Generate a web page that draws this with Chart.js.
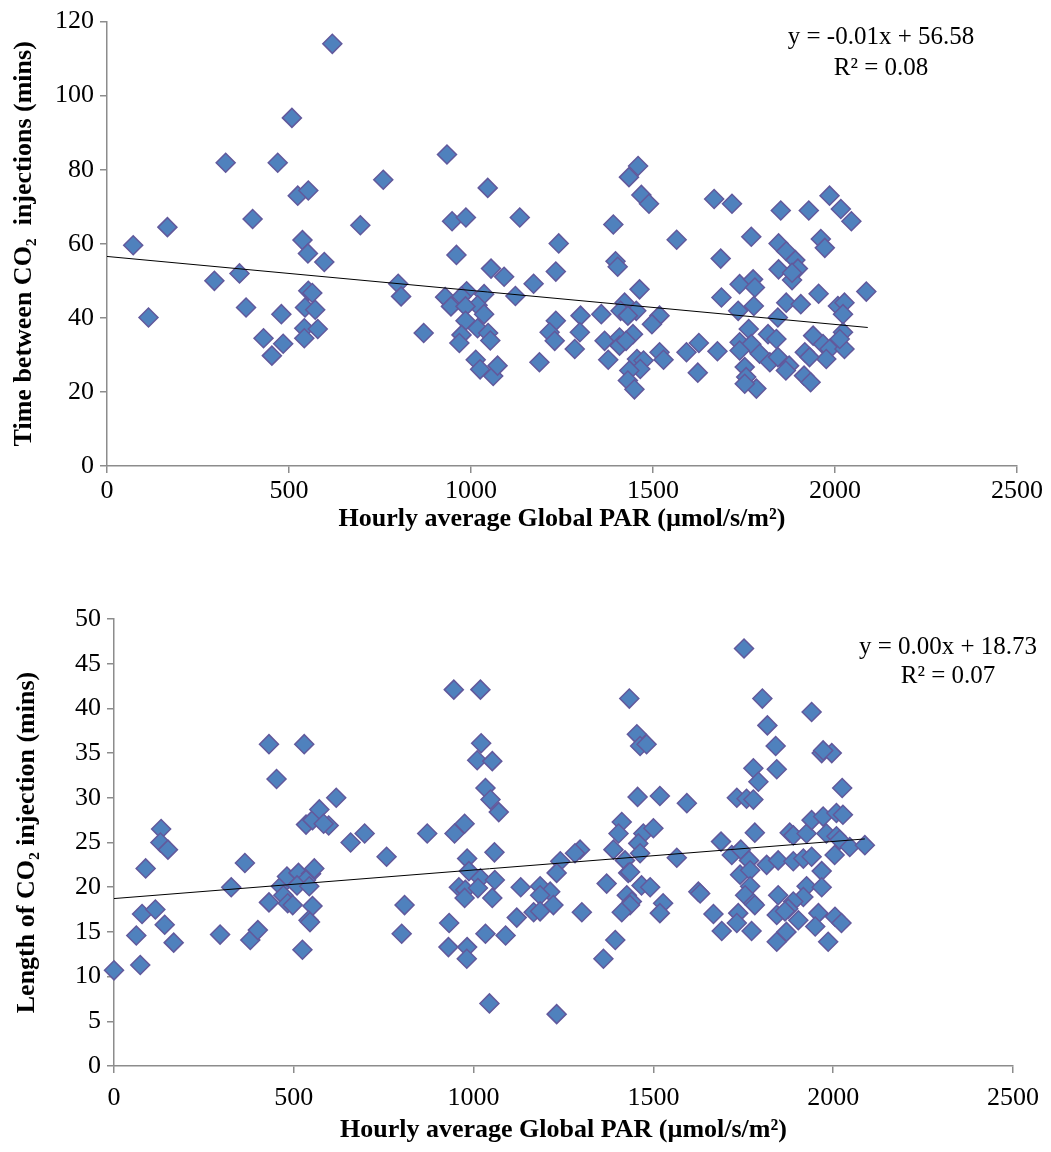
<!DOCTYPE html>
<html>
<head>
<meta charset="utf-8">
<script src="https://cdn.jsdelivr.net/npm/chart.js@4.4.1/dist/chart.umd.min.js"></script>
<style>
    html, body { margin: 0; padding: 0; background: #fff; }
    #wrap { position: relative; width: 1051px; height: 1152px; }
    canvas { position: absolute; left: 0; }
    #topChart { top: 0; }
    #bottomChart { top: 560px; }
</style>
</head>
<body>
<div id="wrap">
    <canvas id="topChart" width="1051" height="560"></canvas>
    <canvas id="bottomChart" width="1051" height="592"></canvas>
</div>
<script>
// Ticks
const parTicks = [0, 500, 1000, 1500, 2000, 2500];
const intervalTicks = [0, 20, 40, 60, 80, 100, 120];
const lengthTicks = [0, 5, 10, 15, 20, 25, 30, 35, 40, 45, 50];

// Top chart: [hourly PAR, time between injections]
const intervalPoints = [
    [619, 114.0], [508, 94.0], [326, 81.9], [469, 81.9], [934, 84.1], [759, 77.3], [1046, 75.1],
    [524, 73.0], [553, 74.4], [1134, 67.1], [948, 66.1], [986, 67.1], [400, 66.7], [696, 65.0],
    [166, 64.5], [72, 59.6], [537, 61.0], [552, 57.4], [960, 57.0], [597, 55.1], [364, 52.0],
    [295, 50.0], [1055, 53.3], [1091, 51.1], [1172, 49.2], [800, 49.2], [808, 45.8], [1122, 45.9],
    [929, 45.6], [945, 43.1], [988, 47.2], [974, 45.8], [1036, 46.4], [1018, 43.4], [1036, 41.0],
    [985, 43.1], [985, 39.2], [553, 47.3], [564, 46.7], [544, 42.8], [572, 42.2], [382, 42.8],
    [479, 41.0], [114, 40.1], [870, 35.9], [974, 35.4], [968, 33.2], [1018, 37.2], [1047, 35.9],
    [1053, 33.9], [542, 37.2], [542, 34.5], [579, 37.0], [430, 34.5], [484, 33.0], [453, 29.8],
    [1013, 28.7], [1025, 26.1], [1061, 24.3], [1073, 27.1], [1188, 28.0],
    [1459, 81.0], [1434, 78.0], [1468, 73.2], [1489, 70.8], [1668, 72.1], [1717, 70.8], [1851, 69.0],
    [1928, 69.0], [1985, 73.0], [2016, 69.4], [2045, 66.1], [1391, 65.2], [1241, 60.1], [1565, 61.1],
    [1770, 61.9], [1845, 60.1], [1866, 58.0], [1891, 55.6], [1898, 53.3], [1961, 61.3], [1972, 58.9],
    [1686, 56.0], [1397, 55.3], [1403, 53.8], [1233, 52.5], [1845, 53.1], [1882, 50.2], [1882, 52.2],
    [1463, 47.7], [1738, 49.1], [1775, 50.4], [1780, 48.2], [1688, 45.5], [1955, 46.5], [2086, 47.1],
    [1866, 44.1], [1906, 43.7], [1777, 43.2], [1734, 41.9], [1843, 40.1], [2008, 43.2], [2026, 44.1],
    [2022, 41.0], [1422, 44.1], [1411, 41.9], [1454, 41.9], [1431, 40.6], [1358, 41.0], [1301, 40.6],
    [1518, 40.6], [1497, 38.3], [1233, 39.2], [1216, 36.1], [1230, 33.8], [1299, 36.1], [1285, 31.6],
    [1367, 33.8], [1408, 34.7], [1408, 32.5], [1445, 35.6], [1426, 33.8], [1377, 28.7], [1456, 28.9],
    [1474, 28.5], [1465, 26.2], [1435, 25.8], [1431, 23.1], [1449, 20.7], [1518, 30.7], [1529, 28.7],
    [1592, 30.7], [1626, 33.2], [1677, 31.0], [1623, 25.2], [1763, 37.0], [1738, 33.4], [1770, 32.9],
    [1793, 30.3], [1821, 28.0], [1816, 35.6], [1839, 34.3], [1843, 29.4], [1738, 31.2], [1752, 26.7],
    [1756, 24.0], [1784, 20.9], [1752, 22.2], [1874, 27.1], [1865, 25.8], [1915, 24.4], [1933, 22.6],
    [1940, 35.2], [1967, 32.9], [1985, 31.6], [1976, 28.9], [1917, 30.7], [1930, 29.4], [2022, 36.1],
    [2026, 31.6], [2013, 34.3]
];
const intervalTrendX = [0, 2090];
const intervalTrendY = [56.58, 37.4];
const intervalEquation = ['y = -0.01x + 56.58', 'R\u00B2 = 0.08'];

// Bottom chart: [hourly PAR, length of injection]
const lengthPoints = [
    [0, 10.7], [73, 11.3], [62, 14.6], [78, 17.0], [88, 22.1], [131, 26.5], [129, 25.0], [150, 24.2],
    [115, 17.5], [141, 15.8], [166, 13.8], [295, 14.7], [326, 20.0], [364, 22.7], [379, 14.1],
    [400, 15.2], [431, 36.0], [452, 32.1], [529, 36.0], [431, 18.3], [464, 20.1], [481, 21.2],
    [513, 21.6], [548, 21.5], [534, 20.8], [557, 22.1], [509, 20.2], [543, 20.1], [471, 19.1],
    [483, 18.2], [497, 18.0], [552, 17.9], [541, 16.3], [545, 16.1], [524, 13.0], [534, 27.0],
    [552, 27.5], [571, 28.7], [597, 26.9], [583, 27.1], [618, 30.0], [658, 25.0], [697, 26.0],
    [758, 23.4], [800, 14.8], [808, 18.0], [871, 26.0], [932, 16.0], [930, 13.3], [945, 42.1],
    [1019, 42.1], [947, 26.0], [975, 27.1], [982, 23.2], [987, 21.8], [959, 20.0], [977, 19.7],
    [975, 18.8], [982, 13.3], [981, 12.0], [1021, 36.1], [1010, 34.2], [1052, 34.1], [1033, 31.1],
    [1047, 29.8], [1070, 28.4], [1058, 23.9], [1019, 21.0], [1012, 19.9], [1059, 20.8], [1052, 18.8],
    [1033, 14.8], [1044, 7.0], [1089, 14.6], [1120, 16.6], [1131, 20.0], [1167, 17.2],
    [1752, 46.7], [1433, 41.1], [1803, 41.1], [1940, 39.6], [1817, 38.1], [1840, 35.8], [1454, 37.1],
    [1463, 35.8], [1481, 36.0], [1968, 35.0], [1996, 35.0], [1972, 35.3], [1778, 33.3], [1792, 31.8],
    [1843, 33.2], [2025, 31.1], [1456, 30.1], [1518, 30.2], [1732, 30.0], [1759, 29.9], [1778, 29.8],
    [1593, 29.4], [1412, 27.3], [1403, 26.0], [1389, 24.2], [1421, 23.0], [1472, 26.0], [1500, 26.6],
    [1458, 24.9], [1463, 23.8], [1688, 25.1], [1782, 26.1], [1879, 26.1], [1889, 25.8], [1926, 26.0],
    [1940, 27.5], [1972, 27.9], [2009, 28.3], [2027, 28.1], [1981, 26.0], [2009, 25.7], [2018, 25.3],
    [2046, 24.5], [2088, 24.7], [2004, 23.6], [1296, 24.2], [1282, 23.8], [1241, 22.9], [1231, 21.6],
    [1565, 23.3], [1718, 23.6], [1743, 24.2], [1766, 23.0], [1815, 22.5], [1847, 23.0], [1889, 22.9],
    [1917, 23.2], [1940, 23.4], [1741, 21.4], [1769, 21.9], [1968, 21.8], [1430, 21.6], [1435, 21.7],
    [1370, 20.4], [1185, 20.1], [1213, 19.5], [1185, 19.1], [1222, 18.0], [1426, 19.1], [1440, 18.4],
    [1467, 20.2], [1491, 20.0], [1769, 20.1], [1755, 19.1], [1778, 18.2], [1926, 20.1], [1968, 20.0],
    [1917, 18.9], [1847, 19.1], [1889, 18.4], [1875, 17.6], [1625, 19.5], [1630, 19.3], [1527, 18.2],
    [1518, 17.1], [1435, 18.0], [1412, 17.2], [1301, 17.2], [1185, 17.3], [1667, 17.0], [1736, 17.1],
    [1732, 16.0], [1782, 18.0], [1690, 15.1], [1773, 15.1], [1843, 16.9], [1866, 17.3], [1903, 16.3],
    [1843, 13.9], [1870, 15.0], [1959, 17.1], [1950, 15.6], [2005, 16.7], [2023, 16.0], [1986, 13.9],
    [1394, 14.1], [1361, 12.0], [1231, 5.8]
];
const lengthTrendX = [0, 2088];
const lengthTrendY = [18.73, 25.4];
const lengthEquation = ['y = 0.00x + 18.73', 'R\u00B2 = 0.07'];

const serif = '"Liberation Serif", "Times New Roman", serif';
const axisGrey = '#8c8c8c';
const parTitle = 'Hourly average Global PAR (\u00B5mol/s/m\u00B2)';

// Trendline equation text, drawn over the plot
const equationLabel = {
    id: 'equationLabel',
    afterDatasetsDraw(chart, args, opts) {
        const ctx = chart.ctx;
        ctx.save();
        ctx.font = '25px ' + serif;
        ctx.fillStyle = '#000';
        ctx.textAlign = 'center';
        ctx.textBaseline = 'middle';
        opts.lines.forEach((line, i) => ctx.fillText(line, opts.x, opts.y + i * opts.gap));
        ctx.restore();
    }
};

function makeScatter(canvasId, cfg) {
    const ctx = document.getElementById(canvasId).getContext('2d');
    return new Chart(ctx, {
        type: 'scatter',
        data: {
            datasets: [
                {
                    type: 'line',
                    data: cfg.trendX.map((x, i) => ({ x, y: cfg.trendY[i] })),
                    borderColor: '#000',
                    borderWidth: 1,
                    pointRadius: 0,
                    order: 0
                },
                {
                    data: cfg.points.map(([x, y]) => ({ x, y })),
                    pointStyle: 'rectRot',
                    pointRadius: 9.5,
                    backgroundColor: '#4F81BD',
                    borderColor: '#62599c',
                    borderWidth: 1.5,
                    clip: false,
                    order: 1
                }
            ]
        },
        options: {
            responsive: false,
            animation: false,
            layout: {
                padding: { left: 0, top: cfg.top, right: cfg.right, bottom: 0 }
            },
            plugins: {
                legend: { display: false },
                tooltip: { enabled: false },
                equationLabel: cfg.equation
            },
            scales: {
                x: {
                    type: 'linear',
                    min: 0,
                    max: 2500,
                    afterBuildTicks: scale => { scale.ticks = parTicks.map(v => ({ value: v })); },
                    afterFit: scale => { scale.height = cfg.xHeight; },
                    border: { color: axisGrey, width: 1.5 },
                    grid: { drawOnChartArea: false, tickLength: 7, color: axisGrey, lineWidth: 1.5 },
                    ticks: {
                        color: '#000',
                        font: { family: serif, size: 26 },
                        padding: cfg.xTickPad,
                        maxRotation: 0,
                        callback: value => String(value)
                    },
                    title: {
                        display: true,
                        text: parTitle,
                        color: '#000',
                        font: { family: serif, size: 26, weight: 'bold' },
                        padding: { top: 0, bottom: cfg.xTitlePad }
                    }
                },
                y: {
                    type: 'linear',
                    min: 0,
                    max: cfg.yTicks[cfg.yTicks.length - 1],
                    afterBuildTicks: scale => { scale.ticks = cfg.yTicks.map(v => ({ value: v })); },
                    afterFit: scale => { scale.width = cfg.yWidth; },
                    border: { color: axisGrey, width: 1.5 },
                    grid: { drawOnChartArea: false, tickLength: 7, color: axisGrey, lineWidth: 1.5 },
                    ticks: {
                        color: '#000',
                        font: { family: serif, size: 26 },
                        padding: 6,
                        callback: value => String(value)
                    },
                    title: {
                        display: true,
                        text: cfg.yTitle,
                        color: '#000',
                        font: { family: serif, size: 26, weight: 'bold' },
                        padding: { top: cfg.yTitlePad, bottom: 0 }
                    }
                }
            }
        },
        plugins: [equationLabel]
    });
}

makeScatter('topChart', {
    points: intervalPoints,
    trendX: intervalTrendX,
    trendY: intervalTrendY,
    yTicks: intervalTicks,
    yTitle: 'Time between CO\u2082  injections (mins)',
    top: 19, right: 34, yWidth: 107, xHeight: 94,
    xTickPad: 3, xTitlePad: 25, yTitlePad: 9,
    equation: { lines: intervalEquation, x: 881, y: 37, gap: 31 }
});

makeScatter('bottomChart', {
    points: lengthPoints,
    trendX: lengthTrendX,
    trendY: lengthTrendY,
    yTicks: lengthTicks,
    yTitle: 'Length of CO\u2082 injection (mins)',
    top: 59, right: 38, yWidth: 114, xHeight: 86,
    xTickPad: 10, xTitlePad: 6, yTitlePad: 12,
    equation: { lines: lengthEquation, x: 948, y: 87, gap: 29 }
});
</script>
</body>
</html>
